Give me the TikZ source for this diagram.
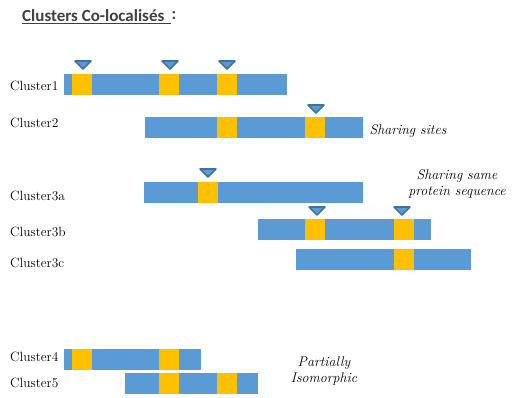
\documentclass[tikz,border=0pt]{standalone}
\usepackage{fontspec}
\newfontfamily\titlefont{Carlito}
\definecolor{barblue}{HTML}{5B9BD5}
\definecolor{baryel}{HTML}{FFC000}
\definecolor{tridark}{HTML}{41719C}
\definecolor{titlegray}{HTML}{404040}
\begin{document}
\begin{tikzpicture}[x=1pt,y=-1pt,
  lab/.style={anchor=west,inner sep=0pt,font=\fontsize{13.4}{15}\selectfont},
  note/.style={inner sep=0pt,align=center,font=\fontsize{14}{15.5}\selectfont\itshape},
  sitemark/.style={fill=barblue,draw=tridark,line width=1.6pt,line join=round},
  ttl/.style={anchor=west,inner sep=0pt,text=titlegray,font=\titlefont\fontsize{17}{19}\selectfont\bfseries}
]
\useasboundingbox (0,0) rectangle (519,398);
% helper macros
\newcommand\barbox[3]{\fill[barblue] (#1,#3) rectangle (#2,#3+21);}
\newcommand\sitebox[2]{\fill[baryel] (#1,#2) rectangle (#1+20,#2+21);}
\newcommand\tri[2]{\draw[sitemark] (#1-8,#2+1) -- (#1+8,#2+1) -- (#1,#2+9) -- cycle;}

% title
\node[ttl] (title) at (22,15.5) {Clusters Co-localisés};
\node[ttl] (colon) at (171.5,15.5) {:};
\draw[titlegray,line width=1.3pt] (22,23.5) -- (171,23.5);

% Cluster1
\node[lab] (c1) at (10,86) {Cluster1};
\barbox{64}{287}{74}
\sitebox{72}{74}\sitebox{159}{74}\sitebox{217}{74}
\tri{83}{60}\tri{170}{60}\tri{227}{60}

% Cluster2
\node[lab] (c2) at (10,123) {Cluster2};
\barbox{145}{363}{117}
\sitebox{217}{117}\sitebox{305}{117}
\tri{316}{104}
\node[note] (n1) at (408,131) {Sharing sites};

% Cluster3a
\node[lab] (c3a) at (10,196) {Cluster3a};
\barbox{144}{363}{182}
\sitebox{198}{182}
\tri{208}{168}
\node[note] (n2) at (457,184) {Sharing same\\protein sequence};

% Cluster3b
\node[lab] (c3b) at (10,232) {Cluster3b};
\barbox{258}{431}{219}
\sitebox{305}{219}\sitebox{394}{219}
\tri{317}{206}\tri{402}{206}

% Cluster3c
\node[lab] (c3c) at (10,263) {Cluster3c};
\barbox{296}{471}{249}
\sitebox{394}{249}

% Cluster4
\node[lab] (c4) at (10,357) {Cluster4};
\barbox{64}{201}{349}
\sitebox{72}{349}\sitebox{159}{349}

% Cluster5
\node[lab] (c5) at (10,383) {Cluster5};
\barbox{125}{258}{373}
\sitebox{159}{373}\sitebox{217}{373}
\node[note] (n3) at (324,371) {Partially\\Isomorphic};
\end{tikzpicture}
\end{document}
